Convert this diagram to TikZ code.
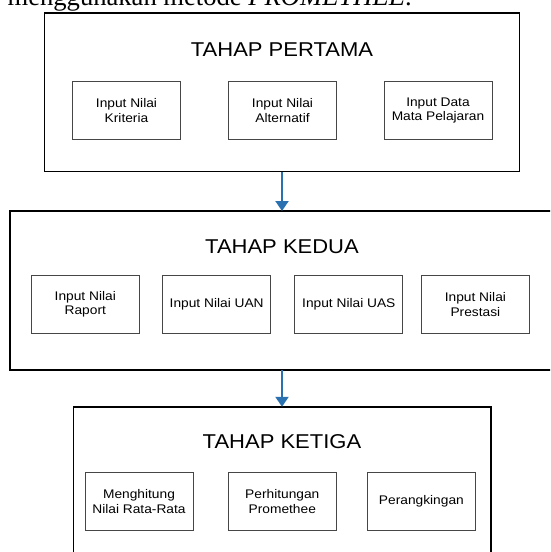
\documentclass[tikz,border=0pt]{standalone}
\usepackage{fontspec}
\setmainfont{Liberation Serif}
\newfontfamily\diag[FakeStretch=1.1]{Liberation Sans}
\usetikzlibrary{arrows.meta}
\definecolor{arrowblue}{RGB}{41,113,176}
\definecolor{innergray}{RGB}{70,70,70}
\tikzset{
  outerbox/.style={draw=black, line width=1.5pt},
  innerbox/.style={draw=innergray, line width=0.8pt, minimum width=108pt, minimum height=58pt, inner sep=0pt, align=center, font=\diag\fontsize{12.5}{14.5}\selectfont},
  titletext/.style={font=\diag\fontsize{20}{24}\selectfont, inner sep=0pt},
  flowarrow/.style={draw=arrowblue, line width=2pt, -{Triangle[width=13pt,length=10pt]}}
}
\begin{document}
\begin{tikzpicture}[x=1pt,y=-1pt]
\useasboundingbox (0,0) rectangle (550,552);
\clip (0,0) rectangle (550,552);
% top cut-off text line
\node[anchor=base west, inner sep=0pt, font=\fontsize{26.6}{30}\selectfont] (intro) at (7.4,5.5) {menggunakan metode \textit{PROMETHEE}.};
% stage 1
\draw[outerbox] (44.5,12.8) rectangle (519.5,171.5);
\coordinate (s1b) at (282,171.5);
\node[titletext] (t1) at (282,49.5) {TAHAP PERTAMA};
\node[innerbox] (a1) at (126.5,110.5) {Input Nilai\\Kriteria};
\node[innerbox] (a2) at (282.5,110.5) {Input Nilai\\Alternatif};
\node[innerbox] (a3) at (438,110.5) {Input Data\\Mata Pelajaran};
% stage 2
\draw[outerbox] (9.8,211) rectangle (560,370);
\coordinate (s2t) at (282,211);
\coordinate (s2b) at (282,370);
\node[titletext] (t2) at (282,246.6) {TAHAP KEDUA};
\node[innerbox] (b1) at (85.3,304.5) {Input Nilai\\Raport};
\node[innerbox] (b2) at (216.7,304.5) {Input Nilai UAN};
\node[innerbox] (b3) at (348.8,304.5) {Input Nilai UAS};
\node[innerbox] (b4) at (475.4,304.5) {Input Nilai\\Prestasi};
% stage 3
\draw[outerbox] (73.6,406.8) rectangle (491,570);
\coordinate (s3t) at (282,406.8);
\node[titletext] (t3) at (282,441.9) {TAHAP KETIGA};
\node[innerbox] (c1) at (139,501.5) {Menghitung\\Nilai Rata-Rata};
\node[innerbox] (c2) at (282.3,501.5) {Perhitungan\\Promethee};
\node[innerbox] (c3) at (421.4,501.5) {Perangkingan};
% arrows
\draw[flowarrow] (s1b) -- (s2t);
\draw[flowarrow] (s2b) -- (s3t);
\end{tikzpicture}
\end{document}
